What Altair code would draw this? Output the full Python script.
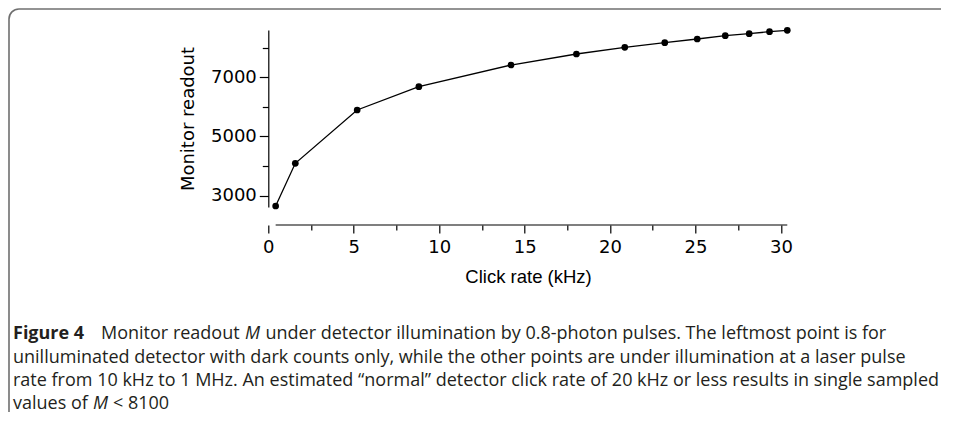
import math
import altair as alt
import pandas as pd

# ---- data ----
click_rate = [0.43, 1.58, 5.2, 8.81, 14.2, 18.03, 20.86, 23.2, 25.1, 26.74, 28.14, 29.33, 30.37]
readout = [2652, 4095, 5895, 6682, 7415, 7787, 8013, 8169, 8294, 8405, 8473, 8541, 8588]
x_ticks = [0, 2.5, 5, 7.5, 10, 12.5, 15, 17.5, 20, 22.5, 25, 27.5, 30]
y_ticks = [3000, 4000, 5000, 6000, 7000, 8000]
x_title = "Click rate (kHz)"
y_title = "Monitor readout"
caption_bold = "Figure 4"
caption_line1 = ["Monitor readout", "M", "under detector illumination by 0.8-photon pulses. The leftmost point is for"]
caption_line2 = "unilluminated detector with dark counts only, while the other points are under illumination at a laser pulse"
caption_line3 = "rate from 10 kHz to 1 MHz. An estimated \u201cnormal\u201d detector click rate of 20 kHz or less results in single sampled"
caption_line4 = ["values of", "M", "< 8100"]

df = pd.DataFrame({"x": click_rate, "y": readout})
one = pd.DataFrame({"_": [0]})

W, H = 519.5, 177
PAD_L, PAD_T = 260.3, 22
TOTAL_W, TOTAL_H = 936, 404

xs = alt.Scale(domain=[0, 30.4], nice=False, zero=False)
ys = alt.Scale(domain=[2618, 8598], nice=False, zero=False)

x_axis = alt.Axis(
    values=x_ticks,
    labelExpr="datum.value % 5 === 0 ? format(datum.value, 'd') : ''",
    domain=False,
    offset=18,
    tickSize={"condition": {"test": "datum.value % 5 === 0", "value": 8}, "value": 5},
    tickColor="black",
    tickWidth=1.2,
    labelFont="DejaVu Sans",
    labelFontSize=18,
    labelColor="black",
    labelPadding=5,
    labelFlush=False,
    grid=False,
    title=x_title,
    titleFont="Liberation Sans",
    titleFontSize=18.5,
    titleFontWeight="normal",
    titleColor="black",
    titlePadding=11,
)
y_axis = alt.Axis(
    values=y_ticks,
    labelExpr="datum.value % 2000 === 1000 ? format(datum.value, 'd') : ''",
    domain=True,
    domainColor="black",
    domainWidth=1.2,
    tickSize={"condition": {"test": "datum.value % 2000 === 1000", "value": 9}, "value": 6},
    tickColor="black",
    tickWidth=1.2,
    labelFont="DejaVu Sans",
    labelFontSize=18,
    labelColor="black",
    labelPadding=3,
    labelFlush=False,
    grid=False,
    title=y_title,
    titleFont="DejaVu Sans",
    titleFontSize=18,
    titleFontWeight="normal",
    titleColor="black",
    titlePadding=13,
)

X = alt.X("x:Q", scale=xs, axis=x_axis)
Y = alt.Y("y:Q", scale=ys, axis=y_axis)

line = alt.Chart(df).mark_line(color="black", strokeWidth=1.3).encode(x=X, y=Y)
pts = alt.Chart(df).mark_point(filled=True, color="black", size=45, opacity=1).encode(x=X, y=Y)
xline = alt.Chart(df).mark_rule(color="black", strokeWidth=1.2).encode(
    x=alt.X("min(x):Q", scale=xs, axis=x_axis), x2="max(x):Q", y=alt.value(H + 18)
)


def px(page_x):
    return page_x - 8 - PAD_L


def py(page_y):
    return page_y - 8 - PAD_T


# ---- frame (top and left edges with a rounded corner) ----
FR_COL = "#6f6f6f"
FR_W = 1.6
R = 10
fx, fy = px(9), py(9)
frame_top = alt.Chart(one).mark_rule(color=FR_COL, strokeWidth=FR_W).encode(
    x=alt.value(fx + R), x2=alt.value(px(941)), y=alt.value(fy)
)
frame_left = alt.Chart(one).mark_rule(color=FR_COL, strokeWidth=FR_W).encode(
    x=alt.value(fx), y=alt.value(fy + R), y2=alt.value(py(8 + TOTAL_H))
)
frame_corner = alt.Chart(one).mark_arc(
    color=FR_COL, radius=R + FR_W / 2, radius2=R - FR_W / 2,
    theta=1.5 * math.pi, theta2=2 * math.pi,
).encode(x=alt.value(fx + R), y=alt.value(fy + R))

CAP_FONT = "Open Sans"
CAP_SIZE = 18.0
CAP_COLOR = "#231f20"

lines_y = [py(339), py(362.5), py(385.5), py(408.5)]


def txt(s, x, y, weight="normal", style="normal"):
    return alt.Chart(one).mark_text(
        align="left", baseline="alphabetic", font=CAP_FONT, fontSize=CAP_SIZE,
        fontWeight=weight, fontStyle=style, color=CAP_COLOR,
    ).encode(x=alt.value(x), y=alt.value(y), text=alt.value(s))


cap = [
    txt(caption_bold, px(13), lines_y[0], weight="bold"),
    txt(caption_line1[0], px(101), lines_y[0]),
    txt(caption_line1[1], px(245), lines_y[0], style="italic"),
    txt(caption_line1[2], px(265.5), lines_y[0]),
    txt(caption_line2, px(13), lines_y[1]),
    txt(caption_line3, px(13), lines_y[2]),
    txt(caption_line4[0], px(13), lines_y[3]),
    txt(caption_line4[1], px(93), lines_y[3], style="italic"),
    txt(caption_line4[2], px(113), lines_y[3]),
]

chart = alt.layer(frame_top, frame_left, frame_corner, line, pts, xline, *cap).properties(
    width=W, height=H,
    autosize=alt.AutoSizeParams(type="none"),
    padding={"left": PAD_L, "top": PAD_T, "right": TOTAL_W - PAD_L - W, "bottom": TOTAL_H - PAD_T - H},
    background="white",
).configure_view(strokeWidth=0)

chart.save("out.html", embed_options={"renderer": "svg", "actions": False})
